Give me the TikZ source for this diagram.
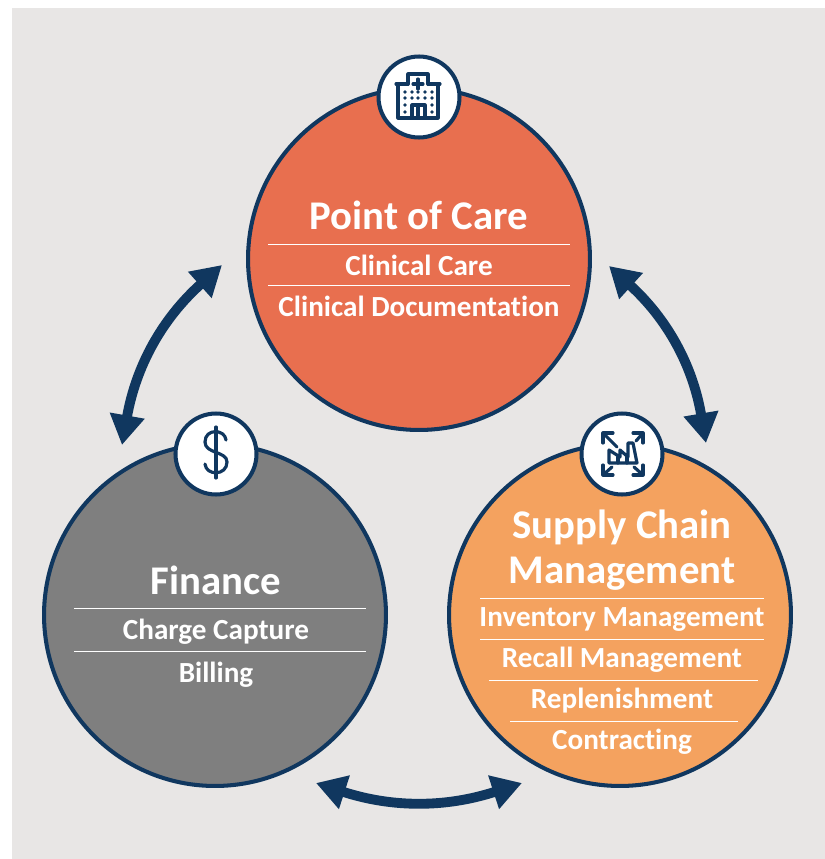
\documentclass[tikz,border=0pt]{standalone}
\usepackage{fontspec}
\setmainfont{Carlito}[RawFeature=-liga]
\usetikzlibrary{calc,arrows.meta}

\definecolor{navy}{HTML}{10375F}
\definecolor{paper}{HTML}{E8E6E5}
\definecolor{coral}{HTML}{E86F4F}
\definecolor{slate}{HTML}{7F7F7F}
\definecolor{sand}{HTML}{F4A25F}

\tikzset{
	area/.style={circle, draw=navy, line width=2.3pt, minimum size=6.84cm, inner sep=0pt},
	badge/.style={circle, draw=navy, fill=white, line width=2.3pt, minimum size=1.62cm, inner sep=0pt},
	heading/.style={text=white, font=\bfseries\fontsize{23.2}{26}\selectfont, inner sep=0pt, anchor=base},
	item/.style={text=white, font=\bfseries\fontsize{16.6}{19}\selectfont, inner sep=0pt, anchor=base},
	rule/.style={white, line width=0.4pt},
	link/.style={navy, line width=5.6pt, {Triangle[length=17pt,width=19pt]}-{Triangle[length=17pt,width=19pt]}},
	glyph/.style={navy, line width=1.8pt, line cap=round, line join=round},
}

\begin{document}
\begin{tikzpicture}[x=0.02cm, y=-0.02cm]

% page %{{{2

	\useasboundingbox (0,0) rectangle (825,859);
	\fill[paper] (12,8) rectangle (825,859);

% circles %{{{2

	\node[area, fill=coral] (care) at (419,259) {};
	\node[area, fill=slate] (finance) at (215,615) {};
	\node[area, fill=sand] (supply) at (620,615) {};

% arrows %{{{2

	\coordinate (A1) at (222,265);
	\coordinate (A2) at (122,445);
	\coordinate (B1) at (609,266);
	\coordinate (B2) at (706,443);
	\coordinate (C1) at (316,783);
	\coordinate (C2) at (522,783);

	\draw[link] (A1) to[bend right=19] (A2);
	\draw[link] (B1) to[bend left=19] (B2);
	\draw[link] (C1) to[bend right=18] (C2);

% badges %{{{2

	\node[badge] (hospital) at (419,97) {};
	\node[badge] (dollar) at (216,454) {};
	\node[badge] (factory) at (622,454) {};

% headings %{{{2

	\node[heading] (careT) at (419,229) {Point of Care};
	\node[heading] (financeT) at (216,594) {Finance};
	\node[heading] (supplyA) at (622,538) {Supply Chain};
	\node[heading] (supplyB) at (622,583) {Management};

% items %{{{2

	\node[item] (care1) at (419,275) {Clinical Care};
	\node[item] (care2) at (419,316) {Clinical Documentation};
	\node[item] (finance1) at (216,639) {Charge Capture};
	\node[item] (finance2) at (216,682) {Billing};
	\node[item] (supply1) at (622,626) {Inventory Management};
	\node[item] (supply2) at (622,667) {Recall Management};
	\node[item] (supply3) at (622,708) {Replenishment};
	\node[item] (supply4) at (622,749) {Contracting};

% rules %{{{2

	\draw[rule] (268,244) -- (570,244);
	\draw[rule] (268,285) -- (570,285);
	\draw[rule] (74,608) -- (366,608);
	\draw[rule] (74,651) -- (366,651);
	\draw[rule] (480,598) -- (764,598);
	\draw[rule] (480,639) -- (764,639);
	\draw[rule] (489,680) -- (758,680);
	\draw[rule] (510,721) -- (738,721);

% hospital icon %{{{2

	\begin{scope}[shift={(hospital.center)}]
		\draw[glyph] (-21,21) -- (-21,-13) -- (-11,-13) -- (-11,-23) -- (9,-23) -- (9,-13) -- (19,-13) -- (19,21) -- cycle;
		\draw[glyph] (-23,-13) -- (-11,-13);
		\draw[glyph] (9,-13) -- (21,-13);
		\draw[glyph] (-7,21) -- (-7,8) -- (6,8) -- (6,21);
		\draw[glyph] (-1,8) -- (-1,21);
		\draw[glyph] (-1,-18) -- (-1,-8);
		\draw[glyph] (-6,-13) -- (4,-13);
		\foreach \x in {-14,-7,6,13} {
			\fill[navy] (\x,-5) circle (1.9);
			\fill[navy] (\x,1) circle (1.9);
		}
		\fill[navy] (-1,-5) circle (1.9);
		\fill[navy] (-1,1) circle (1.9);
		\foreach \x in {-14,13} {
			\fill[navy] (\x,8) circle (1.9);
			\fill[navy] (\x,15) circle (1.9);
		}
	\end{scope}

% dollar icon %{{{2

	\begin{scope}[shift={(dollar.center)}]
		\draw[glyph] (0,-27) -- (0,24);
		\draw[glyph] (10,-14) .. controls (9,-25) and (-11,-26) .. (-11,-12)
			.. controls (-11,0) and (11,-3) .. (11,8)
			.. controls (11,22) and (-10,22) .. (-11,10);
	\end{scope}

% factory icon %{{{2

	\begin{scope}[shift={(factory.center)}]
		\draw[glyph] (-13,9) -- (-13,-4) -- (-2,3) -- (-2,-4) -- (6,3) -- (6,-11) -- (11,-11) -- (15,9) -- cycle;
		\draw[glyph] (-4,9) -- (-4,3);
		\draw[glyph] (5,9) -- (5,3);
		\draw[glyph] (-19,-11) -- (-19,-21) -- (-9,-21);
		\draw[glyph] (-19,-21) -- (-5,-7);
		\draw[glyph] (21,-11) -- (21,-21) -- (11,-21);
		\draw[glyph] (21,-21) -- (14,-13);
		\draw[glyph] (-19,11) -- (-19,21) -- (-9,21);
		\draw[glyph] (-19,21) -- (-10,13);
		\draw[glyph] (21,11) -- (21,21) -- (11,21);
		\draw[glyph] (21,21) -- (12,13);
	\end{scope}

% closing %{{{2

\end{tikzpicture}
\end{document}
